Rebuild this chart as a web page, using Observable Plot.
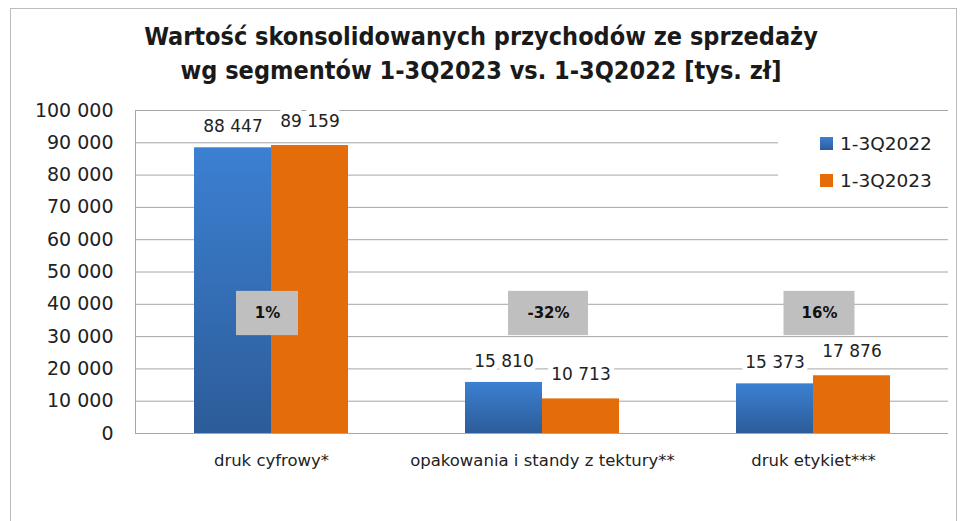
<!DOCTYPE html>
<html>
<head>
<meta charset="utf-8">
<script src="https://cdn.jsdelivr.net/npm/d3@7"></script>
<script src="https://cdn.jsdelivr.net/npm/@observablehq/plot@0.6"></script>
<style>
  html, body { margin: 0; padding: 0; background: #fff; }
  #wrap { position: relative; width: 962px; height: 521px; overflow: hidden; font-family: "DejaVu Sans", sans-serif; }
  #frame { position: absolute; left: 10px; top: 8px; width: 947px; height: 530px; border: 1px solid #bcbcbc; box-sizing: border-box; }
  #title { position: absolute; left: 0; top: 20px; width: 962px; text-align: center; font-family: "DejaVu Sans Condensed", "DejaVu Sans", sans-serif; font-stretch: condensed; font-weight: bold; font-size: 25px; line-height: 34px; color: #1a1a1a; }
  #chart { position: absolute; left: 0; top: 92px; }
  #legend { position: absolute; left: 778px; top: 124px; width: 172px; height: 74px; background: #fff; font-size: 18.5px; color: #222; }
  .li { position: absolute; left: 42px; display: flex; align-items: center; }
  .sw { width: 13px; height: 13px; margin-right: 7px; }
</style>
</head>
<body>
<div id="wrap">
  <div id="frame"></div>
  <div id="title">Wartość skonsolidowanych przychodów ze sprzedaży<br>wg segmentów 1-3Q2023 vs. 1-3Q2022 [tys. zł]</div>
  <div id="chart"></div>
  <div id="legend"></div>
</div>
<script>
const categories = ["druk cyfrowy*", "opakowania i standy z tektury**", "druk etykiet***"];
const seriesNames = ["1-3Q2022", "1-3Q2023"];
const values2022 = [88447, 15810, 15373];
const values2023 = [89159, 10713, 17876];
const changes = ["1%", "-32%", "16%"];
const yTicks = [0, 10000, 20000, 30000, 40000, 50000, 60000, 70000, 80000, 90000, 100000];

const ORANGE = "#e46c0a";
const fmt = d => d3.format(",")(d).replace(/,/g, " ");

const rows2022 = categories.map((c, i) => ({category: c, value: values2022[i]}));
const rows2023 = categories.map((c, i) => ({category: c, value: values2023[i]}));
const rowsChange = categories.map((c, i) => ({category: c, label: changes[i]}));

const W = 962, H = 429;
const half = 77;

// one grey box per change label, width following the label length
const boxMarks = rowsChange.map(r => {
  const w = 44 + 9 * r.label.length;
  return Plot.barY([r], {x: "category", y1: 30300, y2: 44000, fill: "#bfbfbf", insetLeft: (2 * half - w) / 2, insetRight: (2 * half - w) / 2, dx: r.label.length > 2 ? 6 : -4});
});
const boxText = rowsChange.map(r =>
  Plot.text([r], {x: "category", y: 37150, text: "label", fontSize: 15, fontWeight: "bold", fill: "#111", dx: r.label.length > 2 ? 6 : -4})
);

const labelStyle = {fontSize: 17, fill: "#222", stroke: "white", strokeWidth: 10, paintOrder: "stroke"};

const plot = Plot.plot({
  width: W,
  height: H,
  marginTop: 18,
  marginBottom: 88,
  marginLeft: 135,
  marginRight: 14,
  style: {fontFamily: "DejaVu Sans, sans-serif", background: "transparent"},
  x: {domain: categories, paddingInner: 0.432, paddingOuter: 0.216, label: null, tickSize: 0},
  y: {domain: [0, 100000], ticks: yTicks, label: null, tickSize: 0},
  marks: [
    Plot.ruleY(yTicks, {stroke: "#a6a6a6", strokeWidth: 1}),
    Plot.barY(rows2022, {x: "category", y: "value", fill: "url(#blueGrad)", insetRight: half}),
    Plot.barY(rows2023, {x: "category", y: "value", fill: ORANGE, insetLeft: half}),
    Plot.text(rows2022, {x: "category", y: "value", text: d => fmt(d.value), dx: -half / 2, dy: -21, ...labelStyle}),
    Plot.text(rows2023, {x: "category", y: "value", text: d => fmt(d.value), dx: half / 2, dy: -24, ...labelStyle}),
    ...boxMarks,
    ...boxText,
    Plot.axisY({ticks: yTicks, tickFormat: fmt, tickSize: 0, tickPadding: 22, fontSize: 19, fill: "#222"}),
    Plot.axisX({tickSize: 0, tickPadding: 21, fontSize: 16.5, fill: "#222"}),
    Plot.ruleY([0], {stroke: "#a6a6a6"})
  ]
});
document.getElementById("chart").appendChild(plot);

const svg = d3.select(plot);
svg.append("line").attr("x1", 135.5).attr("x2", 135.5).attr("y1", 18).attr("y2", H - 88).attr("stroke", "#a6a6a6");
const defs = svg.insert("defs", ":first-child");
const g = defs.append("linearGradient").attr("id", "blueGrad").attr("x1", 0).attr("y1", 0).attr("x2", 0).attr("y2", 1);
g.append("stop").attr("offset", "0%").attr("stop-color", "#3c80d2");
g.append("stop").attr("offset", "100%").attr("stop-color", "#2c5c99");

const legend = document.getElementById("legend");
[["1-3Q2022", "linear-gradient(#3c80d2,#2c5c99)", 9], ["1-3Q2023", ORANGE, 46]].forEach(([name, color, top]) => {
  const d = document.createElement("div");
  d.className = "li";
  d.style.top = top + "px";
  d.innerHTML = `<span class="sw" style="background:${color}"></span><span>${name}</span>`;
  legend.appendChild(d);
});
</script>
</body>
</html>
